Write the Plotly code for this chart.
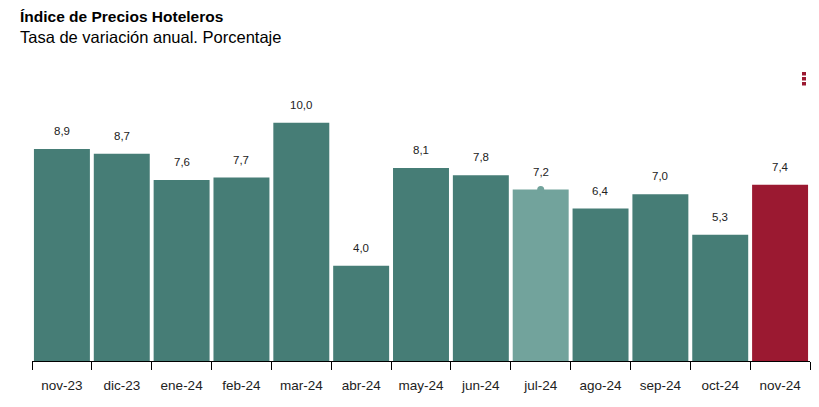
import plotly.graph_objects as go

categories = ["nov-23", "dic-23", "ene-24", "feb-24", "mar-24", "abr-24", "may-24",
              "jun-24", "jul-24", "ago-24", "sep-24", "oct-24", "nov-24"]
values = [8.9, 8.7, 7.6, 7.7, 10.0, 4.0, 8.1, 7.8, 7.2, 6.4, 7.0, 5.3, 7.4]
labels = [f"{v:.1f}".replace(".", ",") for v in values]

TEAL = "#467d76"
HOVER = "#72a39c"
RED = "#9b1931"
colors = [TEAL] * len(values)
colors[categories.index("jul-24")] = HOVER
colors[-1] = RED

fig = go.Figure()
fig.add_trace(go.Bar(x=categories, y=values, marker=dict(color=colors, line=dict(width=0)),
                     hoverinfo="skip"))
# hover marker on jul-24
hi = categories.index("jul-24")
fig.add_trace(go.Scatter(x=[categories[hi]], y=[values[hi]], mode="markers",
                         marker=dict(size=7, color=HOVER), hoverinfo="skip"))

for c, v, t in zip(categories, values, labels):
    fig.add_annotation(x=c, y=v, text=t, showarrow=False, yanchor="bottom", yshift=10,
                       font=dict(size=11.5, color="#222", family="Liberation Sans, Arial"))

fig.add_annotation(xref="paper", yref="paper", x=0, xanchor="left", y=1, yanchor="bottom",
                   text="<b>Índice de Precios Hoteleros</b>", showarrow=False,
                   xshift=-14, yshift=72, font=dict(size=15.5, color="#000", family="Liberation Sans, Arial"))
fig.add_annotation(xref="paper", yref="paper", x=0, xanchor="left", y=1, yanchor="bottom",
                   text="Tasa de variación anual. Porcentaje", showarrow=False,
                   xshift=-14, yshift=51, font=dict(size=16.5, color="#000", family="Liberation Sans, Arial"))

# menu icon (three small dots), plot area: x 32..810 px, y 99..361 px
PW, PH, PL, PB = 778.0, 262.0, 32.0, 361.0
for top in (72, 77, 82):
    fig.add_shape(type="rect", xref="paper", yref="paper",
                  x0=(802 - PL) / PW, x1=(806 - PL) / PW,
                  y0=(PB - (top + 3.5)) / PH, y1=(PB - top) / PH,
                  fillcolor=RED, line=dict(width=0))

fig.update_layout(
    width=803, height=391,
    margin=dict(l=24, r=1, t=91, b=38),
    paper_bgcolor="white", plot_bgcolor="white",
    showlegend=False, bargap=0.065,
    font=dict(family="Liberation Sans, Arial", size=12, color="#222"),
    xaxis=dict(showline=True, linecolor="#000", linewidth=1, ticks="outside",
               ticklen=8, tickcolor="#000", tickson="boundaries", showgrid=False,
               ticklabelstandoff=12,
               tickfont=dict(size=13.5, color="#222")),
    yaxis=dict(range=[0, 11], visible=False, showgrid=False, zeroline=False),
)
fig.write_html("out.html")
